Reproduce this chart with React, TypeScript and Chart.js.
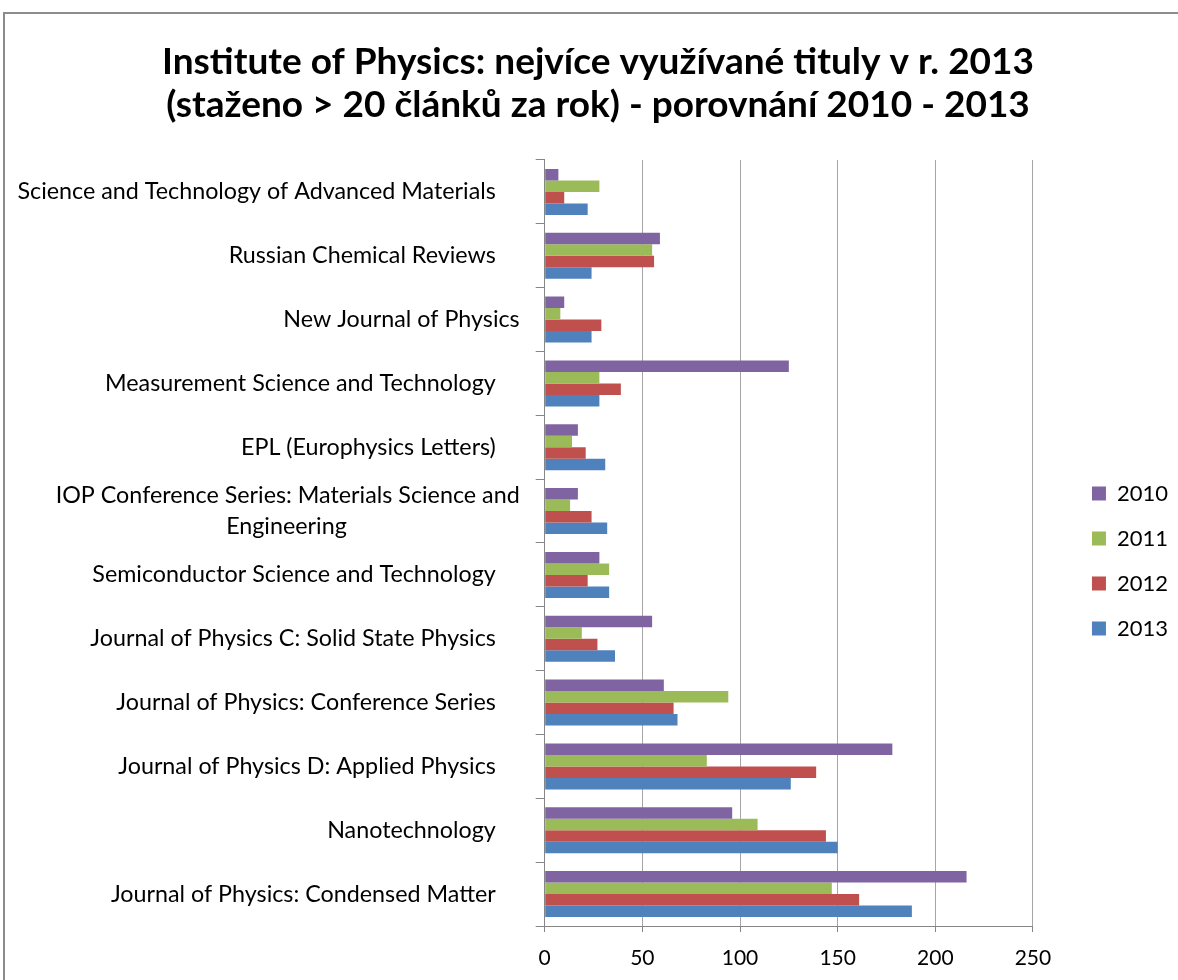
import React, { useEffect, useRef } from "react";
import { Chart, registerables } from "chart.js";

Chart.register(...registerables);

const titleLines = [
  "Institute of Physics: nejvíce využívané tituly v r. 2013",
  "(staženo > 20 článků za rok) - porovnání 2010 - 2013",
];

// categories, top to bottom as displayed (source labels carry trailing spaces)
const categories: (string | string[])[] = [
  "Science and Technology of Advanced Materials    ",
  "Russian Chemical Reviews    ",
  "New Journal of Physics",
  "Measurement Science and Technology    ",
  "EPL (Europhysics Letters)    ",
  ["IOP Conference Series: Materials Science and", "Engineering"],
  "Semiconductor Science and Technology    ",
  "Journal of Physics C: Solid State Physics    ",
  "Journal of Physics: Conference Series    ",
  "Journal of Physics D: Applied Physics    ",
  "Nanotechnology    ",
  "Journal of Physics: Condensed Matter    ",
];

const seriesNames = ["2010", "2011", "2012", "2013"];
const values2010 = [7, 59, 10, 125, 17, 17, 28, 55, 61, 178, 96, 216];
const values2011 = [28, 55, 8, 28, 14, 13, 33, 19, 94, 83, 109, 147];
const values2012 = [10, 56, 29, 39, 21, 24, 22, 27, 66, 139, 144, 161];
const values2013 = [22, 24, 24, 28, 31, 32, 33, 36, 68, 126, 150, 188];
const seriesColors = ["#8064A2", "#9BBB59", "#C0504D", "#4F81BD"];

const xMin = 0;
const xMax = 250;
const xStep = 50;

const FONT = "Lato";
const LABEL_SIZE = 23.3;

const measureCtx = (() => {
  const c = document.createElement("canvas");
  return c.getContext("2d")!;
})();

function centerLines(lines: string[]): string[] {
  measureCtx.font = `${LABEL_SIZE}px ${FONT}`;
  const widths = lines.map((l) => measureCtx.measureText(l).width);
  const max = Math.max(...widths);
  const sp = measureCtx.measureText(" ").width || 4;
  return lines.map((l, i) => l + " ".repeat(Math.round((max - widths[i]) / 2 / sp)));
}

export default function App() {
  const ref = useRef<HTMLCanvasElement>(null);

  useEffect(() => {
    const allValues = [values2010, values2011, values2012, values2013];
    const chart = new Chart(ref.current!, {
      type: "bar",
      data: {
        labels: categories,
        datasets: seriesNames.map((name, i) => ({
          label: name,
          data: allValues[i],
          backgroundColor: seriesColors[i],
          borderWidth: 0,
          categoryPercentage: 0.72,
          barPercentage: 1.0,
          yAxisID: "y",
        })),
      },
      options: {
        indexAxis: "y",
        responsive: false,
        maintainAspectRatio: false,
        animation: false,
        layout: { padding: { left: 18, right: 0, top: 0, bottom: 0 } },
        scales: {
          x: {
            type: "linear",
            position: "bottom",
            min: xMin,
            max: xMax,
            ticks: {
              stepSize: xStep,
              padding: 14,
              color: "#000",
              font: { family: FONT, size: 21 },
            },
            grid: { color: "#a6a6a6", lineWidth: 1, tickLength: 6, tickColor: "#868686" },
            border: { color: "#868686", width: 1 },
            afterFit: (s: any) => {
              s.height = 54;
            },
          },
          y: {
            type: "category",
            position: "left",
            ticks: {
              autoSkip: false,
              padding: 16,
              color: "#000",
              font: { family: FONT, size: LABEL_SIZE, lineHeight: 1.3 },
              callback: function (this: any, _v: any, index: number) {
                const lab = categories[index];
                return Array.isArray(lab) ? centerLines(lab) : lab;
              },
            },
            grid: {
              offset: true,
              drawOnChartArea: false,
              drawTicks: true,
              tickLength: 9,
              color: "#868686",
            },
            border: { color: "#868686", width: 1 },
            afterFit: (s: any) => {
              s.width = 526.7;
            },
          },
          yR: {
            type: "linear",
            axis: "y",
            position: "right",
            display: true,
            grid: { display: false },
            border: { display: false },
            ticks: { display: false },
            afterFit: (s: any) => {
              s.width = 36;
            },
          },
        },
        plugins: {
          title: {
            display: true,
            text: titleLines,
            color: "#000",
            font: { family: FONT, size: 37, weight: "bold", lineHeight: 1.17 },
            padding: { top: 40, bottom: 33.4 },
          },
          legend: {
            position: "right",
            fullSize: false,
            labels: {
              boxWidth: 14,
              boxHeight: 14,
              padding: 23,
              color: "#000",
              font: { family: FONT, size: 22 },
            },
            title: {
              display: true,
              text: " ",
              font: { size: 10 },
              padding: { top: 12, bottom: 12 },
            },
          },
          tooltip: { enabled: false },
        },
      },
    } as any);
    return () => chart.destroy();
  }, []);

  return (
    <div
      style={{
        position: "absolute",
        left: 0,
        top: 0,
        width: 1178,
        height: 980,
        overflow: "hidden",
        background: "#fff",
      }}
    >
      <div
        style={{
          position: "absolute",
          left: 3,
          top: 12,
          width: 1300,
          height: 1100,
          borderTop: "2px solid #8c8c8c",
          borderLeft: "2px solid #8c8c8c",
        }}
      />
      <canvas
        ref={ref}
        width={1178}
        height={980}
        style={{ position: "absolute", left: 0, top: 0, width: 1178, height: 980, display: "block" }}
      />
    </div>
  );
}
